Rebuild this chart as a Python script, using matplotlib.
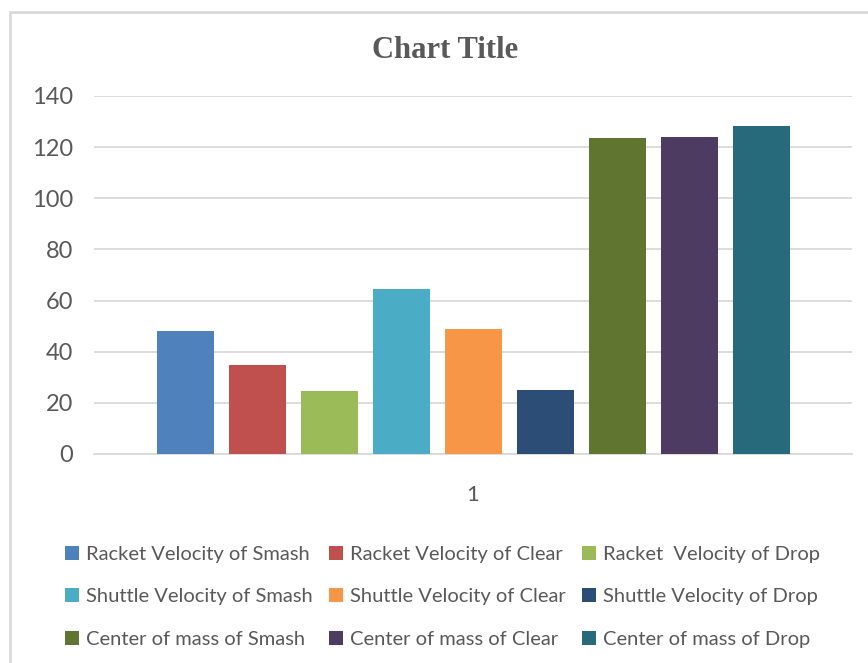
import numpy as np
import matplotlib
matplotlib.use("Agg")
import matplotlib.pyplot as plt
from matplotlib.patches import Rectangle

series = [
    "Racket Velocity of Smash", "Racket Velocity of Clear", "Racket  Velocity of Drop",
    "Shuttle Velocity of Smash", "Shuttle Velocity of Clear", "Shuttle Velocity of Drop",
    "Center of mass of Smash", "Center of mass of Clear", "Center of mass of Drop",
]
values = [48.1, 34.8, 24.7, 64.6, 48.9, 25.0, 123.6, 124.0, 128.3]
colors = ["#4f81bd", "#c0504d", "#9bbb59", "#4bacc6", "#f79646",
          "#2c4d75", "#5f7530", "#4d3b62", "#276a7c"]
category = ["1"]

text_color = "#595959"
plt.rcParams["font.family"] = ["Lato", "DejaVu Sans"]

W, H = 868, 663
fig = plt.figure(figsize=(W / 100, H / 100), dpi=100)
ax = fig.add_axes([94 / W, 1 - 454 / H, (852 - 94) / W, (454 - 96) / H])

pitch = 72 / 758
width = 57 / 758
n = len(values)
bars = []
for i, (name, v, c) in enumerate(zip(series, values, colors)):
    bars.append(ax.bar((i - (n - 1) / 2) * pitch, v, width=width, color=c,
                       label=name, zorder=3))

ax.set_xlim(-0.5, 0.5)
ax.set_ylim(0, 140)
ax.set_yticks(np.arange(0, 141, 20))
ax.set_xticks([0])
ax.set_xticklabels(category)
ax.grid(axis="y", color="#d9d9d9", linewidth=1.3, zorder=0)
ax.tick_params(axis="y", length=0, pad=15, labelsize=17, labelcolor=text_color)
ax.tick_params(axis="x", length=0, pad=22, labelsize=16, labelcolor=text_color)
for s in ["top", "right", "left"]:
    ax.spines[s].set_visible(False)
ax.spines["bottom"].set_color("#d9d9d9")
ax.spines["bottom"].set_linewidth(1.3)

fig.text(445 / W, 1 - 50 / H, "Chart Title", ha="center", va="center",
         fontsize=22, fontweight="bold", color=text_color, family="Liberation Serif")

# legend fills column by column, so reorder to read row by row
order = [0, 3, 6, 1, 4, 7, 2, 5, 8]
fig.legend([bars[k] for k in order], [series[k] for k in order],
           loc="upper left", bbox_to_anchor=(55 / W, 1 - 536 / H), ncol=3,
           frameon=False, fontsize=14.5, labelcolor=text_color,
           handlelength=0.7, handleheight=0.7, handletextpad=0.35,
           columnspacing=0.8, labelspacing=1.25, borderpad=0)

fig.patches.append(Rectangle((10 / W, -0.1), 1.1, 1.1 - 12 / H,
                             transform=fig.transFigure, fill=False,
                             edgecolor="#d9d9d9", linewidth=2))

fig.savefig("out.png", dpi=100)
